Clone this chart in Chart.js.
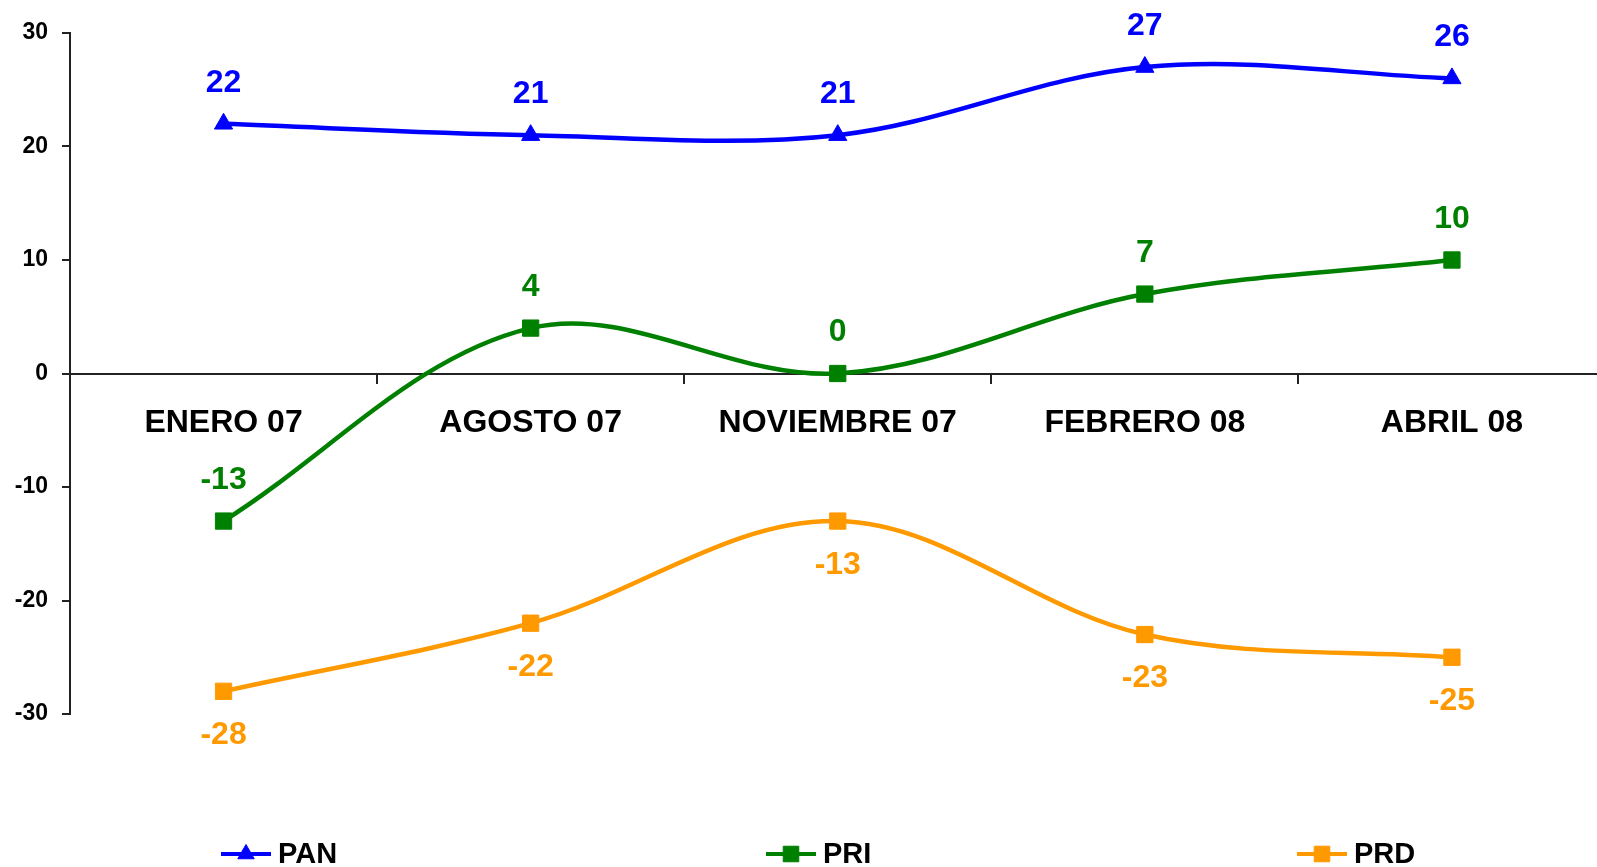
<!DOCTYPE html>
<html>
<head>
<meta charset="utf-8">
<script src="https://cdn.jsdelivr.net/npm/chart.js@4.4.1/dist/chart.umd.min.js"></script>
<style>
  html, body { margin: 0; padding: 0; background: #ffffff; overflow: hidden; width: 1597px; height: 867px; }
  #wrap { position: relative; width: 1597px; height: 867px; overflow: hidden; }
  canvas { display: block; position: absolute; left: 0; top: 0; }
</style>
</head>
<body>
<div id="wrap"><canvas id="c" width="1618" height="867" style="width:1618px;height:867px"></canvas></div>
<script>
const categories = ['ENERO 07', 'AGOSTO 07', 'NOVIEMBRE 07', 'FEBRERO 08', 'ABRIL 08'];
const panValues = [22, 21, 21, 27, 26];
const priValues = [-13, 4, 0, 7, 10];
const prdValues = [-28, -22, -13, -23, -25];
const seriesNames = ['PAN', 'PRI', 'PRD'];
const yTicks = [-30, -20, -10, 0, 10, 20, 30];

const FONT = "'Liberation Sans', Arial, Helvetica, sans-serif";
const colors = ['#0000FF', '#008000', '#FF9900'];
const styles = ['triangle', 'rect', 'rect'];
const radii = [10.5, 11.5, 11.5];
const labelOffsets = [-41, -41, 44];

const valueLabels = {
  id: 'valueLabels',
  afterDatasetsDraw(chart) {
    const ctx = chart.ctx;
    ctx.save();
    ctx.font = 'bold 32px ' + FONT;
    ctx.textAlign = 'center';
    ctx.textBaseline = 'middle';
    chart.data.datasets.forEach((ds, di) => {
      const meta = chart.getDatasetMeta(di);
      ctx.fillStyle = ds.borderColor;
      meta.data.forEach((pt, i) => {
        ctx.fillText(String(ds.data[i]), pt.x, pt.y + labelOffsets[di]);
      });
    });
    ctx.restore();
  }
};

const customLegend = {
  id: 'customLegend',
  afterDraw(chart) {
    const ctx = chart.ctx;
    const xs = [221, 766, 1297];
    const y = 854;
    ctx.save();
    chart.data.datasets.forEach((ds, di) => {
      const x0 = xs[di];
      ctx.strokeStyle = ds.borderColor;
      ctx.lineWidth = 4;
      ctx.beginPath();
      ctx.moveTo(x0, y);
      ctx.lineTo(x0 + 50, y);
      ctx.stroke();
      ctx.fillStyle = ds.borderColor;
      ctx.strokeStyle = ds.borderColor;
      ctx.lineWidth = 1;
      Chart.helpers.drawPoint(ctx, {pointStyle: ds.pointStyle, radius: ds.pointStyle === 'triangle' ? 9.5 : 11, borderWidth: 1, rotation: 0}, x0 + 25, y);
      ctx.fillStyle = '#000';
      ctx.font = 'bold 29px ' + FONT;
      ctx.textAlign = 'left';
      ctx.textBaseline = 'middle';
      ctx.fillText(ds.label, x0 + 57, y + 1);
    });
    ctx.restore();
  }
};

const seriesData = [panValues, priValues, prdValues];

new Chart(document.getElementById('c'), {
  type: 'line',
  data: {
    labels: categories,
    datasets: seriesData.map((vals, i) => ({
      label: seriesNames[i],
      data: vals,
      borderColor: colors[i],
      backgroundColor: colors[i],
      pointBackgroundColor: colors[i],
      pointBorderColor: colors[i],
      borderWidth: 4.5,
      pointStyle: styles[i],
      pointRadius: radii[i],
      pointHoverRadius: radii[i],
      pointBorderWidth: 1,
      tension: 0.35,
      fill: false
    }))
  },
  options: {
    responsive: false,
    maintainAspectRatio: false,
    animation: false,
    devicePixelRatio: 1,
    layout: { padding: { top: 33, bottom: 153, left: 0, right: 0 } },
    plugins: {
      legend: { display: false },
      tooltip: { enabled: false }
    },
    scales: {
      x: {
        type: 'category',
        position: { y: 0 },
        offset: true,
        afterFit(scale) { scale.paddingLeft = 0; scale.paddingRight = 0; },
        grid: { display: true, drawOnChartArea: false, drawTicks: true, tickLength: 9, offset: true, color: '#222', lineWidth: 2 },
        border: { display: true, color: '#222', width: 2 },
        ticks: { color: '#000', font: { family: FONT, size: 32, weight: 'bold' }, padding: 21, maxRotation: 0, autoSkip: false }
      },
      y: {
        min: -30,
        max: 30,
        afterBuildTicks(scale) { scale.ticks = yTicks.map(v => ({ value: v })); },
        afterFit(scale) { scale.width = 70; },
        grid: { display: true, drawOnChartArea: false, drawTicks: true, tickLength: 8, color: '#222', lineWidth: 2 },
        border: { display: true, color: '#222', width: 2 },
        ticks: { color: '#000', font: { family: FONT, size: 23, weight: 'bold' }, padding: 14 }
      }
    }
  },
  plugins: [valueLabels, customLegend]
});
</script>
</body>
</html>
